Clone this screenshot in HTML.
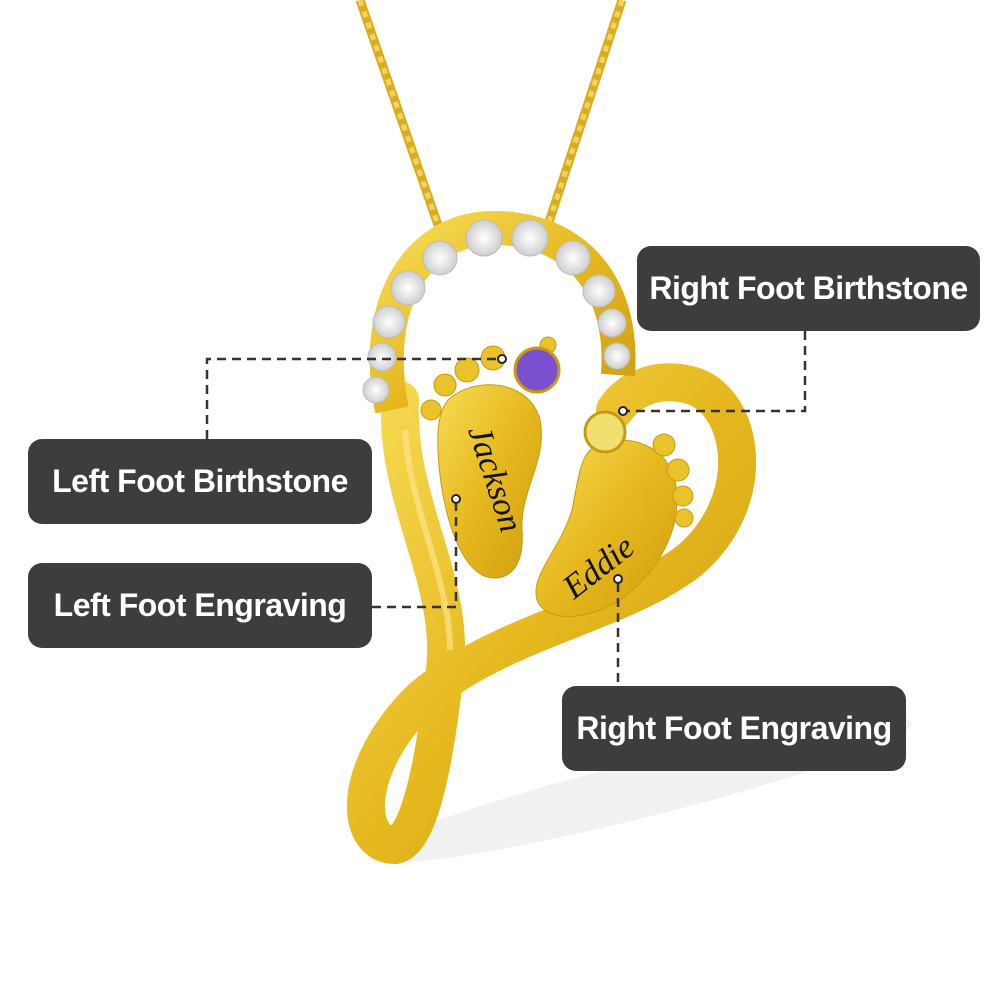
<!DOCTYPE html>
<html><head><meta charset="utf-8"><style>
html,body{margin:0;padding:0;background:#fff;}
#c{position:relative;width:1000px;height:1000px;overflow:hidden;font-family:"Liberation Sans",sans-serif;}
.lb{position:absolute;background:#3d3d3d;border-radius:14px;color:#fff;font-weight:bold;font-size:32px;display:flex;align-items:center;justify-content:center;letter-spacing:-0.5px;}
svg{position:absolute;left:0;top:0;}
</style></head><body><div id="c">
<svg width="1000" height="1000" viewBox="0 0 1000 1000">
<defs>
<linearGradient id="g" x1="0" y1="0" x2="1" y2="1">
<stop offset="0" stop-color="#f7dc55"/><stop offset="0.5" stop-color="#e6b81e"/><stop offset="1" stop-color="#cf9e10"/>
</linearGradient>
<radialGradient id="w"><stop offset="0" stop-color="#fff"/><stop offset="1" stop-color="#cfcfcf"/></radialGradient>
</defs>
<ellipse cx="640" cy="790" rx="280" ry="28" fill="#f1f1f1" transform="rotate(-14 640 790)"/>
<!-- chains -->
<path d="M360 0 L438 225" stroke="#d9ad22" stroke-width="9" fill="none"/>
<path d="M360 0 L438 225" stroke="#f5d35a" stroke-width="5" fill="none" stroke-dasharray="6 6"/>
<path d="M622 0 L548 225" stroke="#d9ad22" stroke-width="9" fill="none"/>
<path d="M622 0 L548 225" stroke="#f5d35a" stroke-width="5" fill="none" stroke-dasharray="6 6"/>
<!-- heart/infinity band -->
<path d="M400 400 C395 500 455 580 445 670 C435 760 420 840 395 845 C355 845 350 770 420 700 C500 630 620 615 690 560 C760 500 745 400 690 385 C650 375 625 395 615 410" fill="none" stroke="url(#g)" stroke-width="38" stroke-linecap="round"/>
<path d="M405 430 C410 510 450 580 450 650" fill="none" stroke="#fbe48a" stroke-width="6" opacity="0.7"/>
<!-- arc with stones -->
<path d="M392 410 C370 300 420 230 490 228 C565 226 625 275 618 375" fill="none" stroke="url(#g)" stroke-width="34"/>
<g fill="url(#w)" stroke="#bbb" stroke-width="1">
<circle cx="376" cy="390" r="13"/><circle cx="382" cy="357" r="14"/><circle cx="389" cy="322" r="16"/><circle cx="408" cy="288" r="17"/>
<circle cx="440" cy="258" r="17"/><circle cx="484" cy="238" r="18"/><circle cx="530" cy="238" r="18"/><circle cx="573" cy="258" r="17"/>
<circle cx="599" cy="291" r="16"/><circle cx="612" cy="323" r="14"/><circle cx="617" cy="356" r="13"/>
</g>
<!-- left foot -->
<path d="M448 400 C475 375 530 380 540 420 C548 460 520 490 522 530 C525 570 505 585 482 575 C455 560 440 500 438 450 C437 425 440 410 448 400 Z" fill="url(#g)" stroke="#c99a10"/>
<g fill="#eac22c" stroke="#c99a10"><circle cx="431" cy="410" r="10"/><circle cx="445" cy="385" r="11"/><circle cx="467" cy="370" r="12"/><circle cx="493" cy="358" r="12"/><circle cx="548" cy="345" r="8"/></g>
<circle cx="537" cy="370" r="22" fill="#7a4fd0" stroke="#c99a10" stroke-width="3"/>
<!-- right foot -->
<path d="M590 450 C615 430 665 440 675 480 C685 530 655 575 620 600 C585 622 545 622 537 600 C530 575 560 550 572 510 C578 480 580 460 590 450 Z" fill="url(#g)" stroke="#c99a10"/>
<g fill="#eac22c" stroke="#c99a10"><circle cx="664" cy="445" r="11"/><circle cx="678" cy="470" r="11"/><circle cx="683" cy="496" r="10"/><circle cx="684" cy="518" r="9"/></g>
<circle cx="605" cy="432" r="20" fill="#f0e070" stroke="#c99a10" stroke-width="3"/>
<text font-family="Liberation Serif,serif" font-style="italic" font-size="34" fill="#111" transform="translate(468 430) rotate(72)">Jackson</text>
<text font-family="Liberation Serif,serif" font-style="italic" font-size="34" fill="#111" transform="translate(574 600) rotate(-38)">Eddie</text>
<!-- dashed connectors -->
<g stroke="#333" stroke-width="2.5" fill="none" stroke-dasharray="9 6">
<path d="M207 439 L207 359 L498 359"/>
<path d="M805 331 L805 411 L627 411"/>
<path d="M372 607 L456 607 L456 503"/>
<path d="M618 583 L618 686"/>
</g>
<g fill="#fff" stroke="#222" stroke-width="2">
<circle cx="502" cy="359" r="4"/><circle cx="623" cy="411" r="4"/><circle cx="456" cy="499" r="4"/><circle cx="618" cy="579" r="4"/>
</g>
</svg>
<div class="lb" style="left:637px;top:246px;width:343px;height:85px;">Right Foot Birthstone</div>
<div class="lb" style="left:28px;top:439px;width:344px;height:85px;">Left Foot Birthstone</div>
<div class="lb" style="left:28px;top:563px;width:344px;height:85px;">Left Foot Engraving</div>
<div class="lb" style="left:562px;top:686px;width:344px;height:85px;">Right Foot Engraving</div>
</div></body></html>
